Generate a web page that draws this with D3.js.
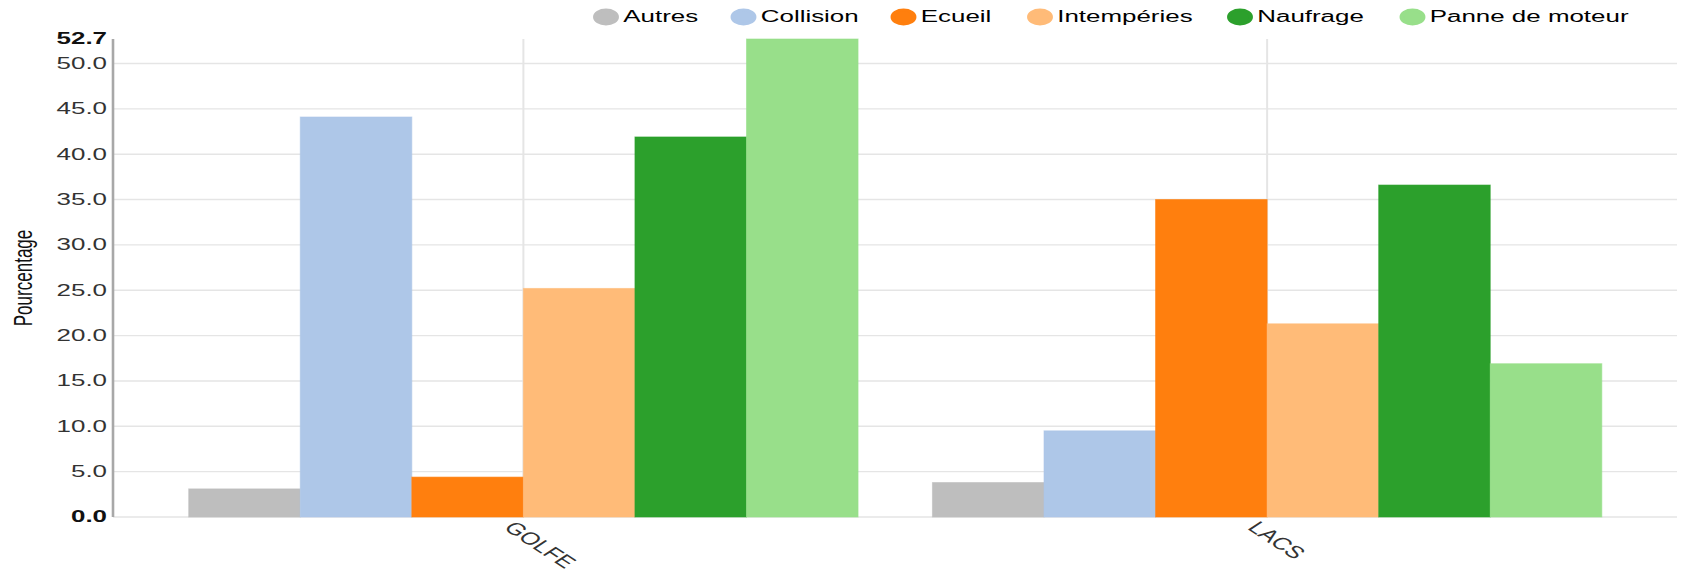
<!DOCTYPE html>
<html><head><meta charset="utf-8">
<script src="https://cdn.jsdelivr.net/npm/d3@7"></script>
<style>
html,body{margin:0;padding:0;background:#fff;}
text{font-family:"Liberation Sans",Arial,sans-serif;font-size:12px;}
</style></head>
<body>
<svg id="c" width="1682" height="583"></svg>
<script>
// ---- data ----
const categories = ["GOLFE", "LACS"];
const seriesNames = ["Autres", "Collision", "Ecueil", "Intempéries", "Naufrage", "Panne de moteur"];
const seriesColors = ["#bebebe", "#aec7e8", "#ff7f0e", "#ffbb78", "#2ca02c", "#98df8a"];
const valuesGolfe = [3.1, 44.1, 4.4, 25.2, 41.9, 52.7];
const valuesLacs  = [3.8, 9.5, 35.0, 21.3, 36.6, 16.9];
const yTicks = [0, 5, 10, 15, 20, 25, 30, 35, 40, 45, 50];
const yMax = 52.7;
const yLabel = "Pourcentage";

const values = [valuesGolfe, valuesLacs];

// ---- layout ----
const sx = 2.16, sy = 1.42; // text stretch of the reference
const svg = d3.select("#c");
const plotLeft = 113, plotRight = 1677, plotTop = 39, plotBottom = 517;
const legendX = [606, 743.5, 903.5, 1040, 1240, 1412.5], legY = 17;

const y = d3.scaleLinear().domain([0, yMax]).range([plotBottom, plotTop]);
const x0 = d3.scaleBand().domain(categories).range([151.5, 1639]).paddingInner(0.1).paddingOuter(0.05);
const x1 = d3.scaleBand().domain(seriesNames).range([0, x0.bandwidth()]);
const color = d3.scaleOrdinal().domain(seriesNames).range(seriesColors);

function stext(g, x, yy, str) {
  return g.append("g").attr("transform", `translate(${x},${yy}) scale(${sx},${sy})`).append("text").text(str);
}

// horizontal gridlines
svg.append("g").selectAll("line").data(yTicks).join("line")
  .attr("x1", plotLeft).attr("x2", plotRight)
  .attr("y1", d => y(d)).attr("y2", d => y(d))
  .attr("stroke", "#e5e5e5").attr("stroke-width", 1.4);

// vertical gridlines
svg.append("g").selectAll("line").data(categories).join("line")
  .attr("x1", d => x0(d) + x0.bandwidth() / 2).attr("x2", d => x0(d) + x0.bandwidth() / 2)
  .attr("y1", plotTop).attr("y2", plotBottom)
  .attr("stroke", "#e5e5e5").attr("stroke-width", 2);

// bars
const groups = svg.append("g").selectAll("g").data(categories).join("g")
  .attr("transform", d => `translate(${x0(d)},0)`);
groups.selectAll("rect").data((d, i) => seriesNames.map((s, j) => ({s, v: values[i][j]}))).join("rect")
  .attr("x", d => x1(d.s)).attr("width", x1.bandwidth())
  .attr("y", d => y(d.v)).attr("height", d => plotBottom - y(d.v))
  .attr("fill", d => color(d.s))
  .attr("stroke", d => color(d.s)).attr("stroke-opacity", 0.6).attr("fill-opacity", 1);

// y axis line
svg.append("line").attr("x1", plotLeft).attr("x2", plotLeft).attr("y1", plotTop).attr("y2", plotBottom)
  .attr("stroke", "#a8a8a8").attr("stroke-width", 2.6);

// y tick labels
const yAxisG = svg.append("g");
yTicks.concat([yMax]).forEach(t => {
  const tx = stext(yAxisG, 107, y(t), d3.format(".1f")(t))
    .attr("text-anchor", "end").attr("dy", ".32em").attr("fill", "#333");
  if (t === 0 || t === yMax) tx.attr("font-weight", "bold").attr("fill", "#111");
});

// y label
svg.append("g").attr("transform", `translate(32,${(plotTop + plotBottom) / 2}) scale(${sx},${sy}) rotate(-90)`)
  .append("text").attr("text-anchor", "middle").attr("fill", "#111").text(yLabel);

// x labels
categories.forEach(c => {
  svg.append("g").attr("transform", `translate(${x0(c) + x0.bandwidth() / 2 - 3},${plotBottom}) scale(${sx},${sy})`)
    .append("text").attr("transform", "rotate(45)").attr("x", 0).attr("y", 3).attr("dy", ".71em")
    .attr("text-anchor", "start").attr("fill", "#333").text(c);
});

// legend
const legend = svg.append("g");
seriesNames.forEach((s, i) => {
  const inner = legend.append("g").attr("transform", `translate(${legendX[i]},${legY}) scale(${sx},${sy})`);
  inner.append("circle").attr("r", 5).attr("fill", color(s)).attr("stroke", color(s)).attr("stroke-width", 2);
  inner.append("text").attr("x", 8).attr("dy", ".32em").attr("fill", "#000").text(s);
});
</script>
</body></html>
